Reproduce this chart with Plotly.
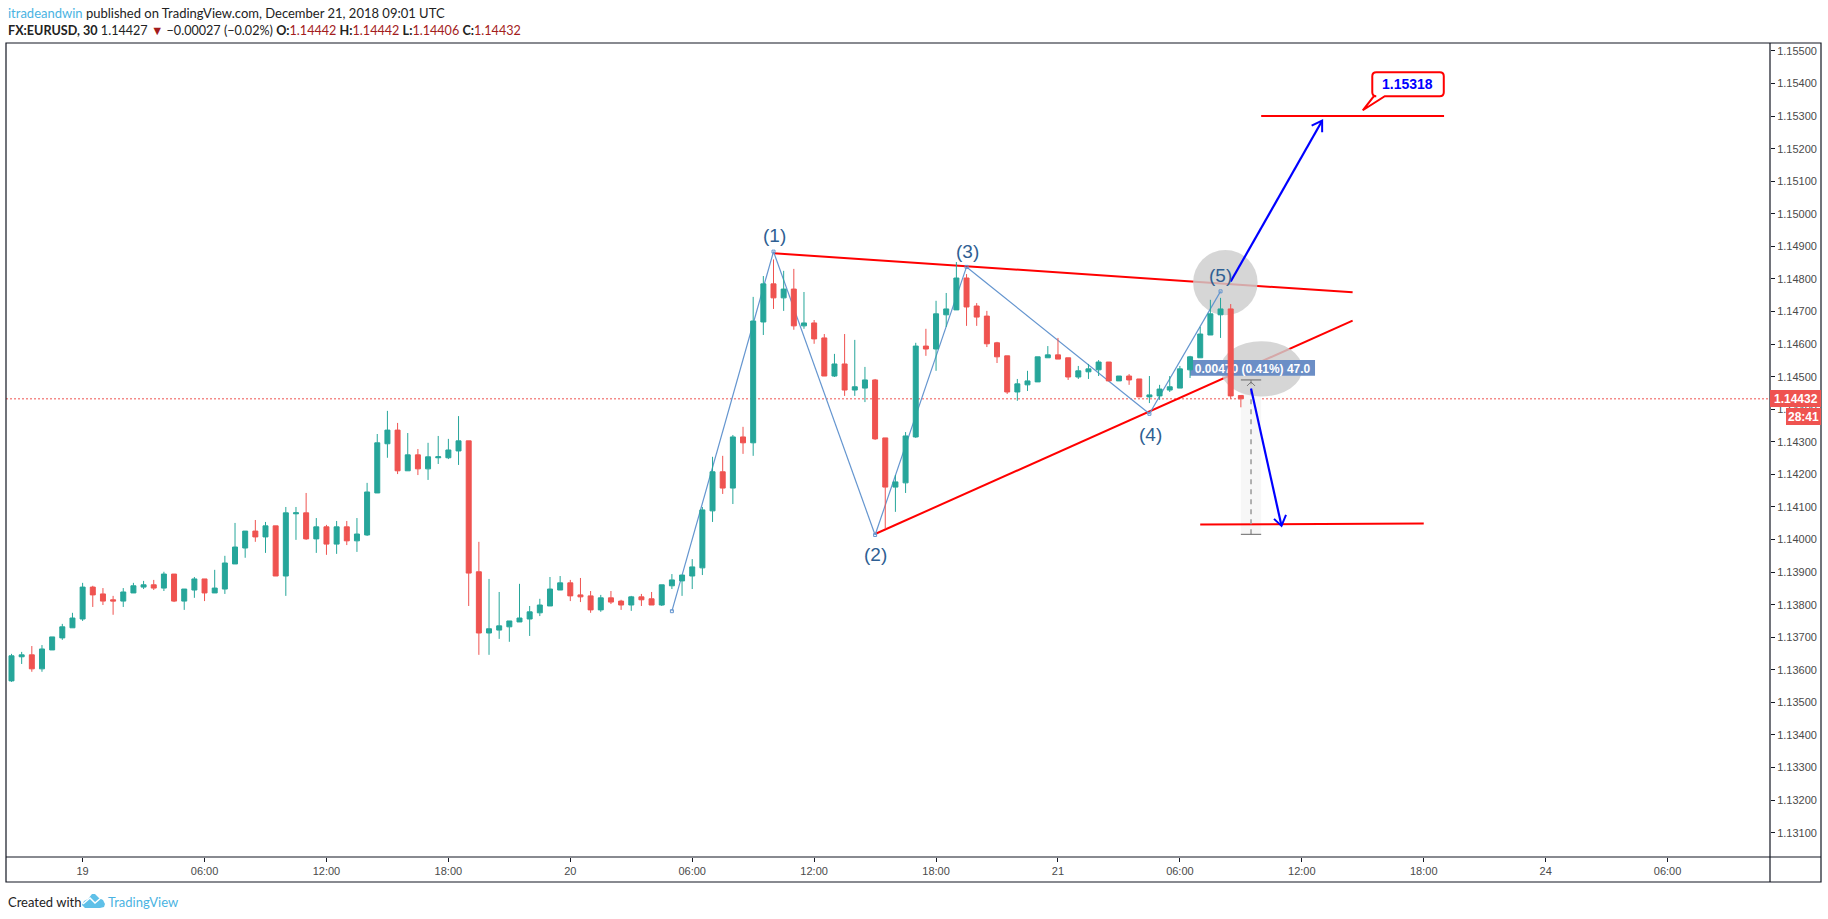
import plotly.graph_objects as go

# ---- candles ----
OPEN = [1.13566,1.13640,1.13646,1.13603,1.13661,1.13698,1.13729,1.13756,1.13854,1.13833,
1.13815,1.13811,1.13836,1.13854,1.13861,1.13851,1.13894,1.13811,1.13845,1.13879,
1.13836,1.13848,1.13925,1.13974,1.14026,1.14008,1.14042,1.13888,1.14079,1.14082,
1.14002,1.14039,1.13986,1.14039,1.13996,1.14014,1.14143,1.14294,1.14336,1.14211,
1.14260,1.14217,1.14251,1.14251,1.14272,1.14303,1.13901,1.13713,1.13722,1.13732,
1.13747,1.13756,1.13775,1.13796,1.13845,1.13867,1.13830,1.13827,1.13784,1.13821,
1.13811,1.13799,1.13824,1.13818,1.13799,1.13858,1.13873,1.13888,1.13913,1.14088,
1.14208,1.14158,1.14315,1.14297,1.14668,1.14785,1.14742,1.14769,1.14656,1.14665,
1.14619,1.14502,1.14539,1.14459,1.14465,1.14490,1.14312,1.14161,1.14174,1.14315,
1.14594,1.14585,1.14690,1.14705,1.14803,1.14717,1.14686,1.14604,1.14564,1.14453,
1.14475,1.14484,1.14558,1.14567,1.14558,1.14499,1.14515,1.14521,1.14545,1.14487,
1.14502,1.14493,1.14438,1.14441,1.14459,1.14465,1.14521,1.14558,1.14628,1.14690,
1.14708,1.14442]
HIGH = [1.13649,1.13655,1.13673,1.13676,1.13701,1.13741,1.13775,1.13867,1.13858,1.13851,
1.13827,1.13851,1.13867,1.13873,1.13876,1.13901,1.13894,1.13848,1.13885,1.13879,
1.13907,1.13950,1.14051,1.14026,1.14060,1.14054,1.14042,1.14100,1.14100,1.14143,
1.14066,1.14045,1.14057,1.14057,1.14066,1.14174,1.14324,1.14395,1.14358,1.14327,
1.14278,1.14297,1.14318,1.14309,1.14379,1.14303,1.13993,1.13879,1.13839,1.13750,
1.13864,1.13796,1.13818,1.13885,1.13888,1.13876,1.13882,1.13842,1.13830,1.13842,
1.13815,1.13827,1.13833,1.13839,1.13861,1.13894,1.13891,1.13940,1.14100,1.14254,
1.14257,1.14321,1.14346,1.14745,1.14809,1.14860,1.14825,1.14831,1.14760,1.14674,
1.14631,1.14570,1.14631,1.14613,1.14530,1.14493,1.14312,1.14198,1.14330,1.14604,
1.14647,1.14733,1.14757,1.14852,1.14815,1.14726,1.14702,1.14607,1.14564,1.14493,
1.14518,1.14561,1.14594,1.14619,1.14558,1.14533,1.14539,1.14551,1.14545,1.14502,
1.14508,1.14493,1.14502,1.14475,1.14502,1.14533,1.14564,1.14653,1.14736,1.14742,
1.14723,1.14442]
LOW = [1.13563,1.13618,1.13594,1.13594,1.13661,1.13692,1.13729,1.13750,1.13793,1.13799,
1.13769,1.13793,1.13836,1.13848,1.13845,1.13842,1.13808,1.13784,1.13821,1.13811,
1.13836,1.13833,1.13925,1.13944,1.13993,1.13959,1.13888,1.13827,1.13999,1.13999,
1.13959,1.13953,1.13956,1.13983,1.13962,1.14011,1.14143,1.14251,1.14201,1.14211,
1.14198,1.14183,1.14232,1.14247,1.14229,1.13796,1.13646,1.13646,1.13695,1.13686,
1.13747,1.13704,1.13765,1.13796,1.13845,1.13811,1.13808,1.13775,1.13778,1.13802,
1.13784,1.13781,1.13796,1.13799,1.13796,1.13848,1.13827,1.13848,1.13891,1.14054,
1.14140,1.14109,1.14263,1.14257,1.14628,1.14708,1.14702,1.14644,1.14647,1.14601,
1.14502,1.14499,1.14441,1.14441,1.14422,1.14306,1.14033,1.14085,1.14143,1.14312,
1.14564,1.14518,1.14653,1.14705,1.14656,1.14656,1.14591,1.14542,1.14447,1.14426,
1.14456,1.14484,1.14558,1.14554,1.14490,1.14493,1.14493,1.14502,1.14487,1.14487,
1.14475,1.14438,1.14419,1.14429,1.14453,1.14465,1.14496,1.14558,1.14628,1.14619,
1.14432,1.14406]
CLOSE = [1.13643,1.13646,1.13603,1.13664,1.13701,1.13732,1.13759,1.13854,1.13830,1.13811,
1.13811,1.13839,1.13858,1.13861,1.13851,1.13894,1.13811,1.13848,1.13879,1.13836,
1.13851,1.13928,1.13977,1.14026,1.14008,1.14042,1.13888,1.14082,1.14082,1.14002,
1.14039,1.13986,1.14039,1.13996,1.14017,1.14146,1.14297,1.14336,1.14211,1.14260,
1.14217,1.14254,1.14254,1.14275,1.14303,1.13897,1.13713,1.13726,1.13735,1.13750,
1.13759,1.13778,1.13799,1.13848,1.13867,1.13827,1.13824,1.13784,1.13821,1.13808,
1.13799,1.13824,1.13815,1.13799,1.13861,1.13876,1.13891,1.13916,1.14091,1.14208,
1.14158,1.14315,1.14297,1.14671,1.14785,1.14742,1.14769,1.14656,1.14665,1.14616,
1.14502,1.14539,1.14459,1.14469,1.14490,1.14309,1.14161,1.14177,1.14318,1.14594,
1.14585,1.14693,1.14708,1.14803,1.14714,1.14683,1.14601,1.14561,1.14453,1.14478,
1.14487,1.14561,1.14567,1.14554,1.14499,1.14518,1.14524,1.14545,1.14487,1.14502,
1.14490,1.14438,1.14444,1.14462,1.14469,1.14524,1.14561,1.14631,1.14693,1.14708,
1.14441,1.14432]
BARS = list(range(len(OPEN)))

TICK_BARS = [7, 19, 31, 43, 55, 67, 79, 91, 103, 115, 127, 139, 151, 163]
TICK_LABELS = ["19","06:00","12:00","18:00","20","06:00","12:00","18:00","21","06:00","12:00","18:00","24","06:00"]
PRICE_TICKS = [1.131,1.132,1.133,1.134,1.135,1.136,1.137,1.138,1.139,1.140,1.141,1.142,1.143,1.144,
               1.145,1.146,1.147,1.148,1.149,1.150,1.151,1.152,1.153,1.154,1.155]
LAST_PRICE = 1.14432

# ---- drawings (bar index, price) ----
WAVE_X = [65, 75, 85, 94, 112, 119]
WAVE_Y = [1.13780, 1.14884, 1.14014, 1.14837, 1.14386, 1.14762]
LABEL_TEXT = ["(1)", "(2)", "(3)", "(4)", "(5)"]
LABEL_X = [75.1, 85.05, 94.1, 112.1, 119]
LABEL_Y = [1.14932, 1.13953, 1.14883, 1.14324, 1.14812]
RED_LINES = [(75, 1.14879, 132, 1.14759), (85, 1.14017, 132, 1.14672),
             (123, 1.15300, 141, 1.15300), (117, 1.14046, 139, 1.14049)]
BLUE_ARROWS = [(120, 1.14792, 129, 1.15286), (122, 1.14464, 125, 1.14042)]
ELLIPSES = [(116.3, 1.14889, 122.65, 1.14689), (119.0, 1.14609, 127.05, 1.14439)]
MEASURE = dict(x0=121, x1=123, xm=122, top=1.14490, bottom=1.14016)
MEASURE_TAG = dict(x0=116.0, x1=128.3, y0=1.14551, y1=1.14503, text="0.00470 (0.41%) 47.0")
CALLOUT = dict(x=133, y=1.15318, text="1.15318", tx=137.4, ty=1.15399)

# ---- page geometry ----
W, H = 1828, 919
L, T, R, B = 6, 43, 1770, 857
def px(X): return (X - L) / (R - L)
def py(Y): return (B - Y) / (B - T)

shapes = []
# last price line
shapes.append(dict(type="line", layer="below", xref="paper", x0=0, x1=1, yref="y", y0=LAST_PRICE, y1=LAST_PRICE,
                   line=dict(color="#ef5350", width=1, dash="2px,2px")))
# measure fill
shapes.append(dict(type="rect", layer="below", x0=MEASURE["x0"], x1=MEASURE["x1"], y0=MEASURE["bottom"], y1=MEASURE["top"],
                   fillcolor="#f7f7f7", line=dict(width=0)))
# red lines
for x0, y0, x1, y1 in RED_LINES:
    shapes.append(dict(type="line", layer="below", x0=x0, y0=y0, x1=x1, y1=y1, line=dict(color="#ff0000", width=2)))
# ellipses
for x0, y0, x1, y1 in ELLIPSES:
    shapes.append(dict(type="circle", layer="below", x0=x0, y0=y0, x1=x1, y1=y1,
                       fillcolor="rgba(205,205,205,0.82)", line=dict(width=0)))
# wave
for i in range(len(WAVE_X) - 1):
    shapes.append(dict(type="line", layer="below", x0=WAVE_X[i], y0=WAVE_Y[i], x1=WAVE_X[i+1], y1=WAVE_Y[i+1],
                       line=dict(color="#6495cf", width=1.2)))
# measure dashes and caps
shapes.append(dict(type="line", layer="below", x0=MEASURE["xm"], x1=MEASURE["xm"], y0=MEASURE["bottom"], y1=MEASURE["top"],
                   line=dict(color="#9a9a9a", width=1.5, dash="5px,5px")))
for v in (MEASURE["top"], MEASURE["bottom"]):
    shapes.append(dict(type="line", layer="below", x0=MEASURE["x0"], x1=MEASURE["x1"], y0=v, y1=v,
                       line=dict(color="#666666", width=1)))
shapes.append(dict(type="path", layer="below", xsizemode="pixel", ysizemode="pixel",
                   xanchor=MEASURE["xm"], yanchor=MEASURE["top"],
                   path="M -4,-6 L 0,-2 L 4,-6", line=dict(color="#777777", width=1)))
# measure tag (under the candles)
shapes.append(dict(type="rect", layer="below", x0=MEASURE_TAG["x0"], x1=MEASURE_TAG["x1"],
                   y0=MEASURE_TAG["y0"], y1=MEASURE_TAG["y1"], fillcolor="#6b8ec6", line=dict(width=0),
                   label=dict(text="<b>" + MEASURE_TAG["text"] + "</b>", textposition="middle center",
                              font=dict(family="Liberation Sans, Arial", size=12, color="#ffffff"))))
# blue arrows
for x0, y0, x1, y1 in BLUE_ARROWS:
    shapes.append(dict(type="line", x0=x0, y0=y0, x1=x1, y1=y1, line=dict(color="#0000ff", width=2.2)))
shapes.append(dict(type="path", xsizemode="pixel", ysizemode="pixel", xanchor=BLUE_ARROWS[0][2], yanchor=BLUE_ARROWS[0][3],
                   path="M -10.5,-5 L 0,0 L 0,-11.5", line=dict(color="#0000ff", width=2)))
shapes.append(dict(type="path", xsizemode="pixel", ysizemode="pixel", xanchor=BLUE_ARROWS[1][2], yanchor=BLUE_ARROWS[1][3],
                   path="M -7.5,7 L 0,0 L 4.5,11", line=dict(color="#0000ff", width=2)))
# callout
shapes.append(dict(type="path", xsizemode="pixel", ysizemode="pixel", xanchor=CALLOUT["x"], yanchor=CALLOUT["y"],
                   path="M 0,0 L 11,14 L 13.5,14 Q 9.5,14 9.5,18 L 9.5,34 Q 9.5,38 13.5,38 L 77,38 Q 81,38 81,34 L 81,18 Q 81,14 77,14 L 22,14 Z",
                   fillcolor="#ffffff", line=dict(color="#ff0000", width=2)))
# frame
shapes.append(dict(type="rect", xref="paper", yref="paper", x0=0, x1=px(1821), y0=py(882), y1=1, line=dict(color="#131722", width=1.2)))
shapes.append(dict(type="line", xref="paper", yref="paper", x0=1, x1=1, y0=py(882), y1=1, line=dict(color="#131722", width=1.2)))
shapes.append(dict(type="line", xref="paper", yref="paper", x0=0, x1=px(1821), y0=0, y1=0, line=dict(color="#131722", width=1.2)))
# price tags
shapes.append(dict(type="rect", xref="paper", yref="paper", x0=1, x1=px(1821), y0=py(407), y1=py(390),
                   fillcolor="#ef5350", line=dict(width=0)))
shapes.append(dict(type="rect", xref="paper", yref="paper", x0=px(1786), x1=px(1821), y0=py(425), y1=py(408),
                   fillcolor="#ef5350", line=dict(width=0)))
# TradingView logo
def pp(points): return "M " + " L ".join(f"{px(a):.5f},{py(b):.5f}" for a, b in points) + " Z"
shapes.append(dict(type="path", xref="paper", yref="paper",
                   path=pp([(82,905),(84,901),(88,899),(92,894),(95,894),(99,898),(103,900),(105,904),(104,907),(100,908),(85,908)]),
                   fillcolor="#5fc0e8", line=dict(width=0)))
shapes.append(dict(type="path", xref="paper", yref="paper",
                   path=f"M {px(83):.5f},{py(904):.5f} L {px(90):.5f},{py(898):.5f} L {px(95):.5f},{py(903):.5f} L {px(102):.5f},{py(897):.5f}",
                   line=dict(color="#ffffff", width=1.5)))

RED = "#a31c1c"
def red(s): return f'<span style="color:{RED}">{s}</span>'
HFONT = "Lato, Noto Sans, sans-serif"
annotations = [
    dict(xref="paper", yref="paper", x=px(6), y=py(13), xanchor="left", yanchor="middle", showarrow=False, align="left",
         font=dict(family=HFONT, size=13, color="#222222"),
         text='<span style="color:#4ab3e2">itradeandwin</span> published on TradingView.com, December 21, 2018 09:01 UTC'),
    dict(xref="paper", yref="paper", x=px(6), y=py(30), xanchor="left", yanchor="middle", showarrow=False, align="left",
         font=dict(family=HFONT, size=12.6, color="#222222"),
         text="<b>FX:EURUSD, 30</b> 1.14427 " + red("▼") + " −0.00027 (−0.02%) <b>O:</b>" + red("1.14442")
              + " <b>H:</b>" + red("1.14442") + " <b>L:</b>" + red("1.14406") + " <b>C:</b>" + red("1.14432")),
    dict(xref="paper", yref="paper", x=px(6), y=py(901.5), xanchor="left", yanchor="middle", showarrow=False,
         font=dict(family=HFONT, size=13, color="#222222"), text="Created with"),
    dict(xref="paper", yref="paper", x=px(106), y=py(901.5), xanchor="left", yanchor="middle", showarrow=False,
         font=dict(family=HFONT, size=13, color="#4ab3e2"), text="TradingView"),
    dict(xref="paper", yref="paper", x=px(1796), y=py(398.5), xanchor="center", yanchor="middle", showarrow=False,
         font=dict(family="Liberation Sans, Arial", size=12, color="#ffffff"), text="<b>1.14432</b>"),
    dict(xref="paper", yref="paper", x=px(1803.5), y=py(416.5), xanchor="center", yanchor="middle", showarrow=False,
         font=dict(family="Liberation Sans, Arial", size=12, color="#ffffff"), text="<b>28:41</b>"),
    dict(x=CALLOUT["tx"], y=CALLOUT["ty"], xanchor="center", yanchor="middle", showarrow=False,
         font=dict(family="Liberation Sans, Arial", size=14, color="#0000ff"), text="<b>" + CALLOUT["text"] + "</b>"),
]
for t, x, y in zip(LABEL_TEXT, LABEL_X, LABEL_Y):
    annotations.append(dict(x=x, y=y, xanchor="center", yanchor="middle", showarrow=False, text=t,
                            font=dict(family="Liberation Sans, Arial", size=19, color="#2f5f93")))

fig = go.Figure()
fig.add_trace(go.Candlestick(x=BARS, open=OPEN, high=HIGH, low=LOW, close=CLOSE, showlegend=False, hoverinfo="skip",
                             increasing=dict(line=dict(color="#26a69a", width=1), fillcolor="#26a69a"),
                             decreasing=dict(line=dict(color="#ef5350", width=1), fillcolor="#ef5350")))
fig.add_trace(go.Scatter(x=WAVE_X, y=WAVE_Y, mode="markers", showlegend=False, hoverinfo="skip",
                         marker=dict(symbol="square-open", size=3, color="#6495cf", line=dict(width=1, color="#6495cf"))))

x_scale = 10.16
fig.update_layout(
    width=W, height=H, autosize=False, margin=dict(l=L, r=W - R, t=T, b=H - B, pad=0),
    paper_bgcolor="#ffffff", plot_bgcolor="#ffffff", showlegend=False,
    font=dict(family="Liberation Sans, Arial", size=11, color="#4a4a4a"),
    shapes=shapes, annotations=annotations,
    xaxis=dict(type="linear", range=[(6 - 11.5) / x_scale, (1770 - 11.5) / x_scale], rangeslider=dict(visible=False),
               showgrid=False, zeroline=False, tickmode="array", tickvals=TICK_BARS, ticktext=TICK_LABELS,
               ticks="outside", ticklen=4, tickwidth=1, tickcolor="#131722", showline=False,
               tickfont=dict(family="Liberation Sans, Arial", size=11, color="#4a4a4a")),
    yaxis=dict(side="right", range=[1.130253, 1.155245], showgrid=False, zeroline=False, tickmode="array",
               tickvals=PRICE_TICKS, ticktext=[f"{v:.5f}" for v in PRICE_TICKS],
               ticks="outside", ticklen=4, tickwidth=1, tickcolor="#131722", showline=False,
               tickfont=dict(family="Liberation Sans, Arial", size=11, color="#4a4a4a")),
)
fig.write_html("out.html", config=dict(displayModeBar=False),
               post_script="document.body.style.margin='0';document.body.style.overflow='hidden';")
